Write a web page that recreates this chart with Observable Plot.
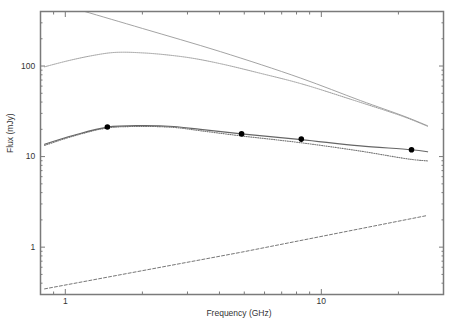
<!DOCTYPE html>
<html>
<head>
<meta charset="utf-8">
<script src="https://cdn.jsdelivr.net/npm/d3@7"></script>
<script src="https://cdn.jsdelivr.net/npm/@observablehq/plot@0.6"></script>
<style>
  html, body { margin: 0; padding: 0; background: #fff; }
  #chart svg { display: block; }
</style>
</head>
<body>
<div id="chart"></div>
<script>
// Measured flux densities
const obsFreq = [1.46, 4.88, 8.35, 22.5];
const obsFlux = [21.2, 17.8, 15.6, 11.9];

// Total fit (solid) and main component (dotted)
const fitFreq = [0.83, 1.08, 1.46, 1.97, 2.65, 3.37, 4.88, 8.35, 14.2, 22.5, 26];
const totalFlux = [13.7, 17.2, 21.2, 22.0, 21.5, 20.0, 17.8, 15.4, 13.1, 11.9, 11.3];
const compFlux = [13.3, 16.9, 20.7, 21.5, 21.0, 19.3, 16.9, 14.2, 11.5, 9.3, 8.96];

// Rising component (dashed)
const riseFreq = [0.83, 4.88, 26];
const riseFlux = [0.346, 0.88, 2.24];

// Upper model curve (dotted)
const upFreq = [0.83, 1.02, 1.25, 1.50, 1.69, 1.97, 2.35, 3.08, 4.04, 5.79, 8.3, 13.0, 21.4, 26.0];
const upFlux = [98, 114, 129, 140, 142, 140, 135, 123, 106, 83, 64, 43, 27, 21.6];

// Upper power-law curve (thin solid)
const plFreq = [0.83, 1.17, 2.0, 4.04, 8.3, 14.2, 21.4, 26.0];
const plFlux = [540, 406, 260, 144, 73.6, 41.6, 27.4, 21.9];

// Tick values
const xMajor = [1, 10];
const xMinor = [0.8, 0.9, 2, 3, 4, 5, 6, 7, 8, 9, 20, 30];
const yMajor = [1, 10, 100];
const yMinor = [0.3, 0.4, 0.5, 0.6, 0.7, 0.8, 0.9, 2, 3, 4, 5, 6, 7, 8, 9, 20, 30, 40, 50, 60, 70, 80, 90, 200, 300, 400];

const zip = (xs, ys) => xs.map((x, i) => ({x, y: ys[i]}));
const obs = zip(obsFreq, obsFlux);
const total = zip(fitFreq, totalFlux);
const comp = zip(fitFreq, compFlux);
const rise = zip(riseFreq, riseFlux);
const up = zip(upFreq, upFlux);
const pl = zip(plFreq, plFlux);

const axisCol = "#7a7a7a";
const textCol = "#333";
const fmt = d => `${d}`;
const none = () => "";

const chart = Plot.plot({
  width: 458,
  height: 321,
  marginLeft: 40,
  marginRight: 15,
  marginTop: 11,
  marginBottom: 27,
  style: {fontFamily: "'Liberation Sans', Arial, sans-serif", fontSize: "8.5px", background: "#fff"},
  x: {type: "log", domain: [0.8, 30]},
  y: {type: "log", domain: [0.3, 400]},
  marks: [
    Plot.line(pl, {x: "x", y: "y", curve: "catmull-rom", stroke: "#999", strokeWidth: 0.9, clip: true}),
    Plot.line(up, {x: "x", y: "y", curve: "catmull-rom", stroke: "#999", strokeWidth: 1, strokeDasharray: "1,1", clip: true}),
    Plot.line(rise, {x: "x", y: "y", stroke: "#777", strokeWidth: 1, strokeDasharray: "3,2", clip: true}),
    Plot.line(comp, {x: "x", y: "y", curve: "catmull-rom", stroke: "#777", strokeWidth: 1.1, strokeDasharray: "1,1.3", clip: true}),
    Plot.line(total, {x: "x", y: "y", curve: "catmull-rom", stroke: "#666", strokeWidth: 1.2, clip: true}),
    Plot.dot(obs, {x: "x", y: "y", r: 2.8, fill: "#000", stroke: "none"}),
    Plot.frame({stroke: axisCol, strokeWidth: 1.5}),
    // x axis bottom
    Plot.axisX(xMajor, {anchor: "bottom", tickSize: -5, tickPadding: 8.5, tickFormat: fmt, stroke: axisCol, fill: textCol, label: null}),
    Plot.axisX(xMinor, {anchor: "bottom", tickSize: -2.5, tickFormat: none, stroke: axisCol, label: null}),
    // x axis top (mirror)
    Plot.axisX(xMajor, {anchor: "top", tickSize: -5, tickFormat: none, stroke: axisCol, label: null}),
    Plot.axisX(xMinor, {anchor: "top", tickSize: -2.5, tickFormat: none, stroke: axisCol, label: null}),
    // y axis left
    Plot.axisY(yMajor, {anchor: "left", tickSize: -5, tickPadding: 10.3, tickFormat: fmt, stroke: axisCol, fill: textCol, label: null}),
    Plot.axisY(yMinor, {anchor: "left", tickSize: -2.5, tickFormat: none, stroke: axisCol, label: null}),
    // y axis right (mirror)
    Plot.axisY(yMajor, {anchor: "right", tickSize: -5, tickFormat: none, stroke: axisCol, label: null}),
    Plot.axisY(yMinor, {anchor: "right", tickSize: -2.5, tickFormat: none, stroke: axisCol, label: null}),
    // axis titles
    Plot.text(["Flux (mJy)"], {frameAnchor: "left", dx: -30, rotate: -90, fill: textCol, fontSize: 8.5}),
    Plot.text(["Frequency (GHz)"], {frameAnchor: "bottom", dy: 21, dx: -3, fill: textCol, fontSize: 8.5})
  ]
});
document.getElementById("chart").appendChild(chart);
</script>
</body>
</html>
